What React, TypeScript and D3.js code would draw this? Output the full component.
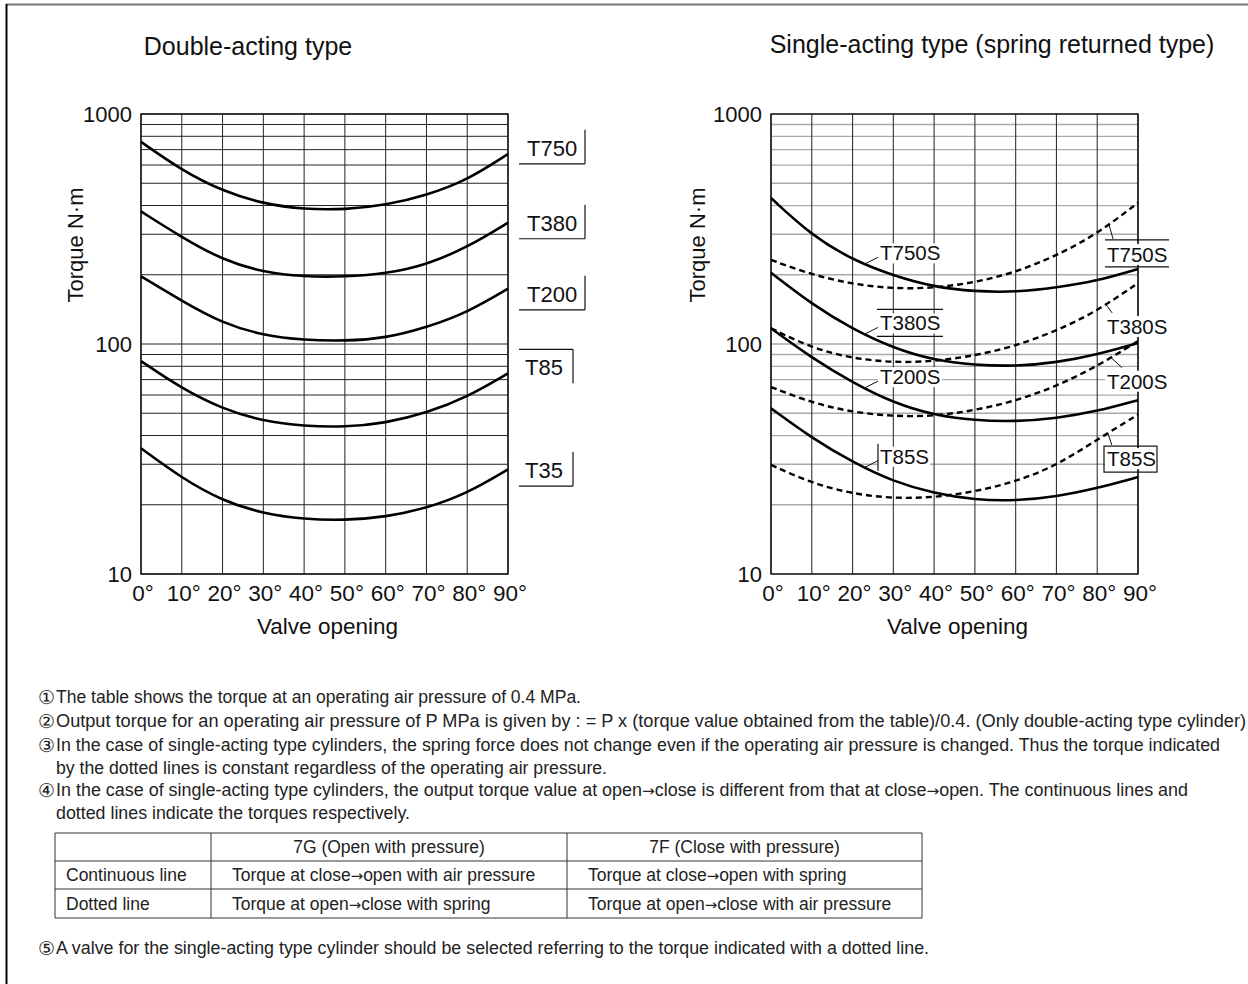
import React from 'react';
import * as d3 from 'd3';

// ---------- data ----------
const angles = [0, 10, 20, 30, 40, 50, 60, 70, 80, 90];
const xTickLabels = ['0°', '10°', '20°', '30°', '40°', '50°', '60°', '70°', '80°', '90°'];
const yTickValues = [10, 100, 1000];

// Double-acting type (torque N·m at 0.4 MPa)
const doubleNames = ['T750', 'T380', 'T200', 'T85', 'T35'];
const t750 = [757, 569, 462, 407, 385, 384, 401, 443, 515, 670];
const t380 = [377, 291, 232, 205, 196, 196, 202, 221, 263, 337];
const t200 = [197, 154, 123, 109, 104, 103, 106, 118, 137, 174];
const t85 = [84.3, 64, 52.2, 46.1, 43.9, 43.5, 45.3, 50.1, 58.7, 74.5];
const t35 = [35.2, 26.1, 20.8, 18.3, 17.3, 17.1, 17.7, 19.3, 22.4, 28.5];
const doubleLabelValues = [720, 340, 167, 80, 28.6];

// Single-acting type (spring returned)
const singleNames = ['T750S', 'T380S', 'T200S', 'T85S'];
const t750sSolid = [431, 296, 232, 198, 177, 169, 168, 176, 188, 212];
const t750sDotted = [232, 200, 182, 174, 175, 185, 205, 242, 301, 411];
const t380sSolid = [204, 149, 116, 96, 85, 81, 80, 83, 90, 101];
const t380sDotted = [117, 96, 86.5, 83, 84, 89, 98, 114, 139, 184];
const t200sSolid = [117, 87, 68, 55.5, 49, 46.5, 46, 47.5, 51, 57];
const t200sDotted = [65, 55.5, 50.5, 48.5, 48.5, 51.5, 56.5, 65.5, 80, 103];
const t85sSolid = [52.5, 39, 30.6, 25.2, 22.4, 21, 20.8, 21.7, 23.6, 26.4];
const t85sDotted = [29.8, 24.8, 22.3, 21.3, 21.5, 22.8, 25.2, 29.6, 38.4, 49.3];

// notes
const noteMarks = ['①', '②', '③', '', '④', '', '⑤'];
const noteLines = [
  'The table shows the torque at an operating air pressure of 0.4 MPa.',
  'Output torque for an operating air pressure of P MPa is given by : = P x (torque value obtained from the table)/0.4. (Only double-acting type cylinder)',
  'In the case of single-acting type cylinders, the spring force does not change even if the operating air pressure is changed. Thus the torque indicated',
  'by the dotted lines is constant regardless of the operating air pressure.',
  'In the case of single-acting type cylinders, the output torque value at open→close is different from that at close→open. The continuous lines and',
  'dotted lines indicate the torques respectively.',
  'A valve for the single-acting type cylinder should be selected referring to the torque indicated with a dotted line.',
];
const tableHeader = ['', '7G (Open with pressure)', '7F (Close with pressure)'];
const tableRow1 = ['Continuous line', 'Torque at close→open with air pressure', 'Torque at close→open with spring'];
const tableRow2 = ['Dotted line', 'Torque at open→close with spring', 'Torque at open→close with air pressure'];

// ---------- layout ----------
const W = 1248;
const H = 984;
const FONT = "'Liberation Sans', Arial, Helvetica, sans-serif";
const ARROW_FONT = "'DejaVu Sans', sans-serif";
const PLOT_TOP = 114;
const PLOT_BOTTOM = 574;
const LEFT_X = [141, 508];
const RIGHT_X = [771, 1138];

const noteBaselines = [703, 727, 751, 774, 796, 819, 954];
const noteEnds = [581, 1246, 1220, 607, 1188, 410, 929];
const tableCols = [55, 211, 567, 922];
const tableRows = [833, 861, 889, 918];

function makeScales(xr: number[]) {
  const x = d3.scaleLinear().domain([0, 90]).range(xr);
  const y = d3.scaleLog().domain([10, 1000]).range([PLOT_BOTTOM, PLOT_TOP]);
  return { x, y };
}

function valueAt(values: number[], angle: number) {
  const i = Math.min(Math.floor(angle / 10), angles.length - 2);
  const f = (angle - angles[i]) / 10;
  const a = Math.log10(values[i]);
  const b = Math.log10(values[i + 1]);
  return Math.pow(10, a + (b - a) * f);
}

function withArrows(t: string) {
  const parts = t.split('→');
  const out: any[] = [];
  parts.forEach((p, i) => {
    out.push(<tspan key={'p' + i}>{p}</tspan>);
    if (i < parts.length - 1) {
      out.push(
        <tspan key={'a' + i} fontFamily={ARROW_FONT} fontSize="0.85em">
          →
        </tspan>
      );
    }
  });
  return out;
}

function Grid({ xr, hColor, vColor, hWidth, vWidth }: any) {
  const { x, y } = makeScales(xr);
  const yt = y.ticks();
  return (
    <g>
      {yt.map((v: number, i: number) => (
        <line key={'h' + i} x1={xr[0]} x2={xr[1]} y1={y(v)} y2={y(v)} stroke={hColor} strokeWidth={hWidth} />
      ))}
      {angles.map((a) => (
        <line key={'v' + a} x1={x(a)} x2={x(a)} y1={PLOT_TOP} y2={PLOT_BOTTOM} stroke={vColor} strokeWidth={vWidth} />
      ))}
      <rect x={xr[0]} y={PLOT_TOP} width={xr[1] - xr[0]} height={PLOT_BOTTOM - PLOT_TOP} fill="none" stroke="#111" strokeWidth={1.4} />
    </g>
  );
}

function Axes({ xr, titleOffset }: any) {
  const { x, y } = makeScales(xr);
  const cx = (xr[0] + xr[1]) / 2;
  return (
    <g fontFamily={FONT} fill="#111">
      {yTickValues.map((v) => (
        <text key={v} x={xr[0] - 9} y={y(v)} dy="0.36em" textAnchor="end" fontSize={22}>
          {v}
        </text>
      ))}
      {angles.map((a, i) => (
        <text key={a} x={x(a) + 2} y={601} textAnchor="middle" fontSize={22.5}>
          {xTickLabels[i]}
        </text>
      ))}
      <text x={cx + 3} y={634} textAnchor="middle" fontSize={22.5}>Valve opening</text>
      <text transform={`translate(${xr[0] - titleOffset},${245}) rotate(-90)`} textAnchor="middle" fontSize={22}>
        Torque N·m
      </text>
    </g>
  );
}

const curve = d3.curveBasis;

function DoublePanel() {
  const xr = LEFT_X;
  const { x, y } = makeScales(xr);
  const line = d3
    .line<number>()
    .x((_, i) => x(angles[i]))
    .y((d) => y(d))
    .curve(curve);
  const series = [t750, t380, t200, t85, t35];
  return (
    <g>
      <text x={248} y={55} textAnchor="middle" fontFamily={FONT} fontSize={25} fill="#111">
        Double-acting type
      </text>
      <Grid xr={xr} hColor="#222" vColor="#222" hWidth={1} vWidth={1} />
      {series.map((s, i) => (
        <path key={i} d={line(s) || ''} fill="none" stroke="#000" strokeWidth={2.6} />
      ))}
      <Axes xr={xr} titleOffset={58} />
      {doubleNames.map((n, i) => {
        const cy = y(doubleLabelValues[i]);
        const top = cy - 17;
        const bot = cy + 17;
        const bx = n.length === 4 ? xr[1] + 77 : xr[1] + 65;
        const isTop = n === 'T85';
        return (
          <g key={n}>
            <text x={xr[1] + (n.length === 4 ? 19 : 17)} y={cy + 9} fontFamily={FONT} fontSize={22} fill="#111">
              {n}
            </text>
            <line x1={bx} x2={bx} y1={top} y2={bot} stroke="#111" strokeWidth={1.2} />
            <line x1={xr[1] + 11} x2={bx} y1={isTop ? top : bot} y2={isTop ? top : bot} stroke="#111" strokeWidth={1.2} />
          </g>
        );
      })}
    </g>
  );
}

function SinglePanel() {
  const xr = RIGHT_X;
  const { x, y } = makeScales(xr);
  const line = d3
    .line<number>()
    .x((_, i) => x(angles[i]))
    .y((d) => y(d))
    .curve(curve);
  const solids = [t750sSolid, t380sSolid, t200sSolid, t85sSolid];
  const dotted = [t750sDotted, t380sDotted, t200sDotted, t85sDotted];

  const leftDeco = ['none', 'overunder', 'none', 'bar'];
  const rightAngle = [82.9, 82.2, 83.4, 82.6];
  const rightLead = [[4, 14], [6, 8], [11, 10], [4, 12]];
  const rightBase = [37, 29, 31, 33];
  const rightDeco = ['overunder', 'none', 'none', 'box'];

  return (
    <g>
      <text x={992} y={53} textAnchor="middle" fontFamily={FONT} fontSize={25} fill="#111">
        Single-acting type (spring returned type)
      </text>
      <Grid xr={xr} hColor="#aaa" vColor="#333" hWidth={1.3} vWidth={1.1} />
      {solids.map((s, i) => (
        <path key={'s' + i} d={line(s) || ''} fill="none" stroke="#000" strokeWidth={2.6} />
      ))}
      {dotted.map((s, i) => (
        <path key={'d' + i} d={line(s) || ''} fill="none" stroke="#000" strokeWidth={2.4} strokeDasharray="6 4" />
      ))}
      <Axes xr={xr} titleOffset={66} />
      {singleNames.map((n, i) => {
        const ang = 22.8;
        const sx = x(ang);
        const sy = y(valueAt(solids[i], ang));
        const ex = sx + 14;
        const ey = sy - 7;
        const tx = sx + 16;
        const base = sy - 4;
        const w = n.length === 5 ? 62 : 50;
        const deco = leftDeco[i];
        return (
          <g key={'l' + n}>
            <rect x={tx - 2} y={base - 17} width={w + 2} height={20} fill="#fff" />
            <line x1={sx} y1={sy} x2={ex} y2={ey} stroke="#111" strokeWidth={1} />
            <text x={tx} y={base} fontFamily={FONT} fontSize={20.5} fill="#111">{n}</text>
            {deco === 'overunder' && (
              <g stroke="#111" strokeWidth={1.2}>
                <line x1={tx - 3} x2={tx + w + 1} y1={base - 21} y2={base - 21} />
                <line x1={tx - 3} x2={tx + w + 1} y1={base + 6} y2={base + 6} />
              </g>
            )}
            {deco === 'bar' && <line x1={tx - 2} x2={tx - 2} y1={base - 20} y2={base + 7} stroke="#111" strokeWidth={1.2} />}
          </g>
        );
      })}
      {singleNames.map((n, i) => {
        const ang = rightAngle[i];
        const sx = x(ang);
        const sy = y(valueAt(dotted[i], ang));
        const ex = sx + rightLead[i][0];
        const ey = sy + rightLead[i][1];
        const tx = 1107;
        const base = sy + rightBase[i];
        const w = n.length === 5 ? 62 : 50;
        const deco = rightDeco[i];
        return (
          <g key={'r' + n}>
            <rect x={tx - 2} y={base - 18} width={w + 2} height={21} fill="#fff" />
            <line x1={sx} y1={sy} x2={ex} y2={ey} stroke="#111" strokeWidth={1} />
            <text x={tx} y={base} fontFamily={FONT} fontSize={20.5} fill="#111">{n}</text>
            {deco === 'overunder' && (
              <g stroke="#111" strokeWidth={1.2}>
                <line x1={tx - 2} x2={tx + w} y1={base - 22} y2={base - 22} />
                <line x1={tx - 2} x2={tx + w} y1={base + 5} y2={base + 5} />
              </g>
            )}
            {deco === 'box' && (
              <rect x={tx - 3} y={base - 20} width={w + 3} height={26} fill="none" stroke="#111" strokeWidth={1.2} />
            )}
          </g>
        );
      })}
    </g>
  );
}

function Notes() {
  const rows = [tableHeader, tableRow1, tableRow2];
  return (
    <g fontFamily={FONT} fill="#222" fontSize={17.5}>
      {noteLines.map((t, i) => (
        <g key={i}>
          {noteMarks[i] && (
            <text x={38} y={noteBaselines[i] + 1} fontSize={19}>{noteMarks[i]}</text>
          )}
          <text x={56} y={noteBaselines[i]} textLength={noteEnds[i] - 56} lengthAdjust="spacingAndGlyphs">
            {withArrows(t)}
          </text>
        </g>
      ))}
      <g stroke="#333" strokeWidth={1}>
        {tableRows.map((ry) => (
          <line key={'r' + ry} x1={tableCols[0]} x2={tableCols[3]} y1={ry} y2={ry} />
        ))}
        {tableCols.map((cx) => (
          <line key={'c' + cx} x1={cx} x2={cx} y1={tableRows[0]} y2={tableRows[3]} />
        ))}
      </g>
      {rows.map((r, ri) =>
        r.map((c, ci) => {
          const yb = (tableRows[ri] + tableRows[ri + 1]) / 2 + 6;
          if (ri === 0) {
            return (
              <text key={ri + '-' + ci} x={(tableCols[ci] + tableCols[ci + 1]) / 2} y={yb} textAnchor="middle">
                {c}
              </text>
            );
          }
          return (
            <text key={ri + '-' + ci} x={tableCols[ci] + (ci === 0 ? 11 : 21)} y={yb}>
              {withArrows(c)}
            </text>
          );
        })
      )}
    </g>
  );
}

export default function App() {
  return (
    <svg width={W} height={H} style={{ position: 'absolute', left: 0, top: 0, background: '#fff' }}>
      <rect x={0} y={0} width={W} height={H} fill="#fff" />
      <line x1={6} x2={W} y1={4.5} y2={4.5} stroke="#777" strokeWidth={2} />
      <line x1={6.5} x2={6.5} y1={4} y2={H} stroke="#000" strokeWidth={2} />
      <DoublePanel />
      <SinglePanel />
      <Notes />
    </svg>
  );
}
